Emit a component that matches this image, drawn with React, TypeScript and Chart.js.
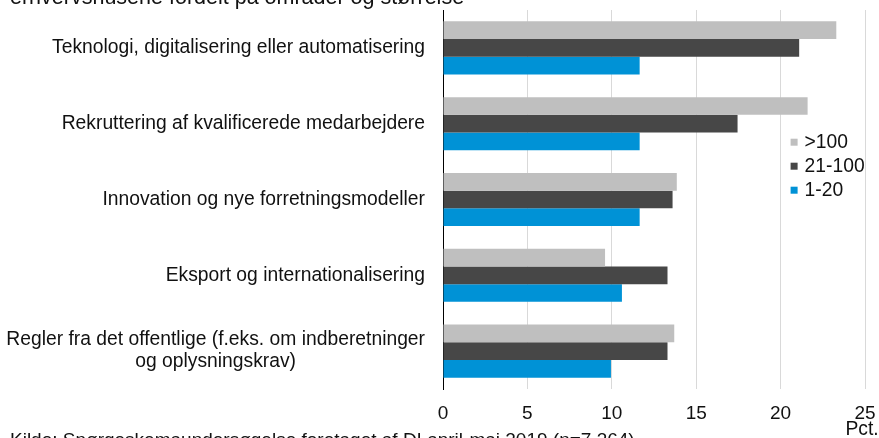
import React, { useEffect, useRef } from "react";
import { Chart, registerables } from "chart.js";

Chart.register(...registerables);

const titleText = "erhvervshusene fordelt på områder og størrelse";
const sourceText = "Kilde: Spørgeskemaundersøgelse foretaget af DI april-maj 2019 (n=7.364)";
const unitText = "Pct.";

const categories: string[][] = [
  ["Teknologi, digitalisering eller automatisering"],
  ["Rekruttering af kvalificerede medarbejdere"],
  ["Innovation og nye forretningsmodeller"],
  ["Eksport og internationalisering"],
  ["Regler fra det offentlige (f.eks. om indberetninger", "og oplysningskrav)"],
];

const seriesNames = [">100", "21-100", "1-20"];
const valuesLarge = [23.3, 21.6, 13.85, 9.6, 13.7];
const valuesMedium = [21.1, 17.45, 13.6, 13.3, 13.3];
const valuesSmall = [11.65, 11.65, 11.65, 10.6, 9.95];
const seriesColors = ["#BFBFBF", "#474747", "#0092D6"];

const xTicks = [0, 5, 10, 15, 20, 25];

const FONT_FAMILY = '"Liberation Sans", Arial, sans-serif';
const LABEL_FONT = '19.3px ' + FONT_FAMILY;

const overlayPlugin = {
  id: "overlay",
  afterDraw(chart: any) {
    const ctx = chart.ctx;
    const yScale = chart.scales.y;
    const xScale = chart.scales.x;
    ctx.save();
    // category labels
    ctx.font = LABEL_FONT;
    ctx.fillStyle = "#111";
    ctx.textBaseline = "middle";
    const rightEdge = yScale.right - 18;
    const lineH = 22;
    categories.forEach((lines, i) => {
      const cy = yScale.getPixelForTick(i);
      const widths = lines.map((l) => ctx.measureText(l).width);
      const maxW = Math.max(...widths);
      const blockCenter = rightEdge - maxW / 2;
      lines.forEach((l, j) => {
        const y = cy + (j - (lines.length - 1) / 2) * lineH;
        ctx.textAlign = "center";
        ctx.fillText(l, blockCenter, y);
      });
    });
    // legend
    const lx = xScale.getPixelForValue(20) + 10;
    const ly0 = yScale.getPixelForTick(1) + 18.5;
    chart.data.datasets.forEach((ds: any, i: number) => {
      const y = ly0 + i * 24;
      ctx.fillStyle = ds.backgroundColor;
      ctx.fillRect(lx, y - 3.5, 7, 7);
      ctx.fillStyle = "#111";
      ctx.textAlign = "left";
      ctx.fillText(ds.label, lx + 14, y);
    });
    // unit
    ctx.textAlign = "center";
    ctx.fillText(unitText, xScale.getPixelForValue(25) - 3, 430);
    ctx.restore();
  },
};

export default function App() {
  const canvasRef = useRef<HTMLCanvasElement | null>(null);

  useEffect(() => {
    if (!canvasRef.current) return;
    const chart = new Chart(canvasRef.current, {
      type: "bar",
      data: {
        labels: categories.map((c) => c.join(" ")),
        datasets: [
          { label: seriesNames[0], data: valuesLarge, backgroundColor: seriesColors[0] },
          { label: seriesNames[1], data: valuesMedium, backgroundColor: seriesColors[1] },
          { label: seriesNames[2], data: valuesSmall, backgroundColor: seriesColors[2] },
        ],
      },
      options: {
        indexAxis: "y",
        responsive: false,
        animation: false,
        events: [],
        layout: { padding: { left: 0, right: 14, top: 10, bottom: 0 } },
        datasets: {
          bar: { categoryPercentage: 0.7, barPercentage: 1.0 },
        },
        plugins: {
          legend: { display: false },
          tooltip: { enabled: false },
          title: { display: false },
        },
        scales: {
          x: {
            min: 0,
            max: 25,
            afterBuildTicks: (scale: any) => {
              scale.ticks = xTicks.map((v) => ({ value: v }));
            },
            afterFit: (scale: any) => {
              scale.height = 49;
              scale.paddingRight = 0;
              scale.paddingLeft = 0;
            },
            grid: {
              color: (ctx: any) => (ctx.tick && ctx.tick.value === 0 ? "rgba(0,0,0,0)" : "#D9D9D9"),
              lineWidth: 1,
              drawTicks: false,
            },
            border: { display: false },
            ticks: {
              padding: 13,
              color: "#111",
              font: { family: FONT_FAMILY, size: 19 },
              maxRotation: 0,
            },
          },
          y: {
            afterFit: (scale: any) => {
              scale.width = 443;
              scale.paddingTop = 0;
              scale.paddingBottom = 0;
            },
            grid: { display: false, drawTicks: false },
            border: { display: true, color: "#000", width: 1 },
            ticks: { display: false },
          },
        },
      },
      plugins: [overlayPlugin],
    });
    return () => chart.destroy();
  }, []);

  const textStyle: React.CSSProperties = {
    position: "absolute",
    left: 10,
    fontFamily: FONT_FAMILY,
    color: "#111",
    whiteSpace: "nowrap",
  };

  return (
    <div
      style={{
        position: "absolute",
        left: 0,
        top: 0,
        width: 879,
        height: 438,
        overflow: "hidden",
        background: "#fff",
      }}
    >
      <canvas ref={canvasRef} width={879} height={438} style={{ position: "absolute", left: 0, top: 0 }} />
      <div style={{ ...textStyle, top: -13.2, fontSize: 21.5, lineHeight: "21.5px" }}>{titleText}</div>
      <div style={{ ...textStyle, top: 429.5, fontSize: 19, lineHeight: "19px" }}>{sourceText}</div>
    </div>
  );
}
